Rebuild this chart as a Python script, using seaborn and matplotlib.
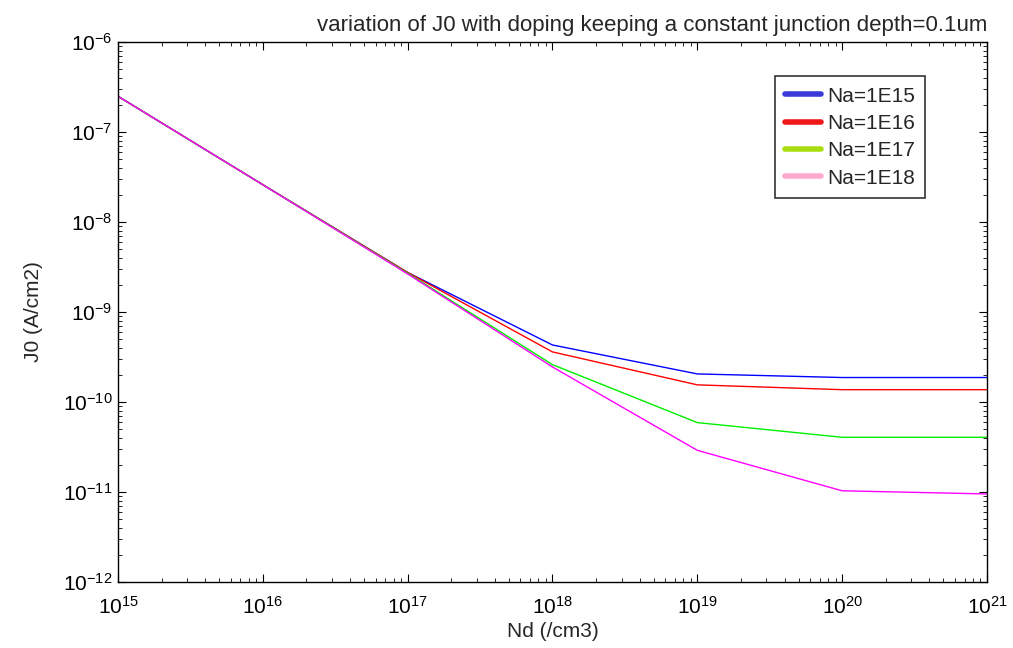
import numpy as np
import pandas as pd
import matplotlib
matplotlib.use("Agg")
import matplotlib.pyplot as plt
import seaborn as sns
from matplotlib.lines import Line2D
from matplotlib.ticker import NullFormatter, LogLocator

# Data
nd = [1e15, 1e16, 1e17, 1e18, 1e19, 1e20, 1e21]
j0_na1e15 = [2.5e-7, 2.6e-8, 2.75e-9, 4.3e-10, 2.05e-10, 1.87e-10, 1.87e-10]
j0_na1e16 = [2.5e-7, 2.6e-8, 2.75e-9, 3.6e-10, 1.55e-10, 1.37e-10, 1.37e-10]
j0_na1e17 = [2.5e-7, 2.6e-8, 2.7e-9, 2.6e-10, 5.9e-11, 4.05e-11, 4.05e-11]
j0_na1e18 = [2.5e-7, 2.6e-8, 2.65e-9, 2.45e-10, 2.9e-11, 1.03e-11, 9.5e-12]
series_names = ["Na=1E15", "Na=1E16", "Na=1E17", "Na=1E18"]
line_colors = ["#0000ff", "#ff0000", "#00ee00", "#ff00ff"]
legend_colors = ["#3a3ad8", "#f01818", "#aadd10", "#ffaacc"]
x_major = [1e15, 1e16, 1e17, 1e18, 1e19, 1e20, 1e21]
y_major = [1e-12, 1e-11, 1e-10, 1e-9, 1e-8, 1e-7, 1e-6]

frames = []
for name, vals in zip(series_names, [j0_na1e15, j0_na1e16, j0_na1e17, j0_na1e18]):
    frames.append(pd.DataFrame({"Nd": nd, "J0": vals, "series": name}))
df = pd.concat(frames, ignore_index=True)

sns.set_style("ticks")
plt.rcParams["font.family"] = ["Liberation Sans", "DejaVu Sans"]

fig = plt.figure(figsize=(10.13, 6.48), dpi=100)
ax = fig.add_axes([0.1165, 0.102, 0.8578, 0.833])

sns.lineplot(data=df, x="Nd", y="J0", hue="series", palette=line_colors,
             hue_order=series_names, linewidth=1.0, ax=ax, legend=False,
             sort=True, estimator=None)
ax.set_xscale("log")
ax.set_yscale("log")
ax.set_xticks(x_major)
ax.set_yticks(y_major)
ax.xaxis.set_minor_locator(LogLocator(base=10, subs=np.arange(2, 10), numticks=100))
ax.yaxis.set_minor_locator(LogLocator(base=10, subs=np.arange(2, 10), numticks=100))
ax.xaxis.set_minor_formatter(NullFormatter())
ax.yaxis.set_minor_formatter(NullFormatter())
ax.set_xlim(1e15, 1e21)
ax.set_ylim(1e-12, 1e-6)

for s in ax.spines.values():
    s.set_visible(True)
    s.set_color("black")
    s.set_linewidth(1.0)

ax.tick_params(which="both", direction="in", top=True, right=True, colors="black",
               labelsize=15)
ax.tick_params(which="major", length=6)
ax.tick_params(which="minor", length=3)
ax.tick_params(axis="x", which="major", pad=10)
ax.tick_params(axis="y", which="major", pad=4)

ax.set_xlabel("Nd (/cm3)", fontsize=15, labelpad=3)
ax.set_ylabel("J0 (A/cm2)", fontsize=15, labelpad=14)
ax.set_title("variation of J0 with doping keeping a constant junction depth=0.1um",
             loc="right", fontsize=16, pad=8)

handles = [Line2D([0], [0], color=c, lw=4, solid_capstyle="round") for c in legend_colors]
leg = ax.legend(handles, series_names, loc="upper right", bbox_to_anchor=(0.929, 0.937),
                borderaxespad=0, frameon=True, fancybox=False, fontsize=15,
                handlelength=1.7, handletextpad=0.3, labelspacing=0.4, borderpad=0.5)
leg.get_frame().set_edgecolor("black")
leg.get_frame().set_linewidth(1.2)

fig.savefig("out.png", dpi=100)
